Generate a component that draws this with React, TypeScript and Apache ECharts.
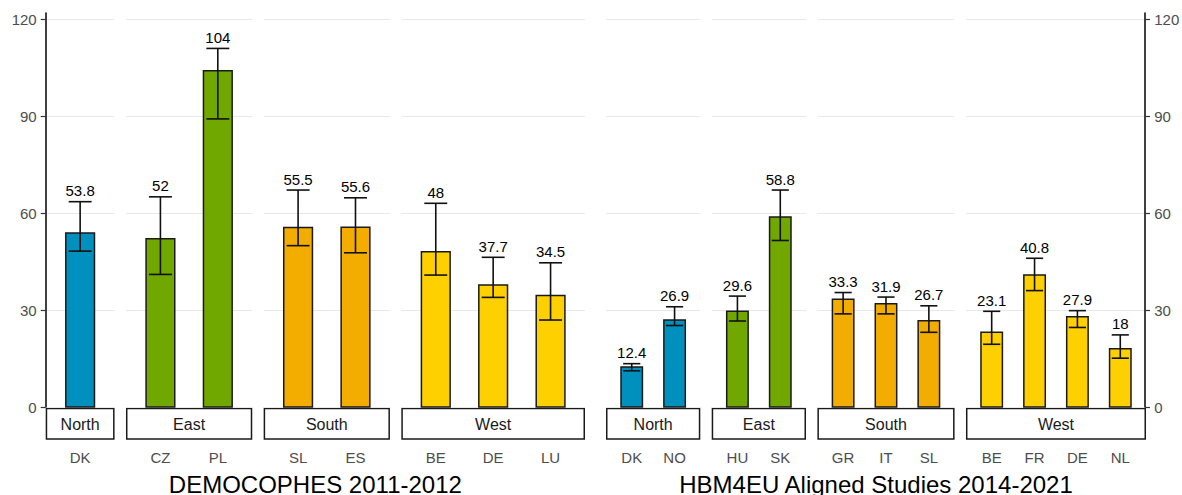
import React, { useEffect, useRef } from 'react';
import * as echarts from 'echarts';

const FONT = 'Arial, "Liberation Sans", Helvetica, sans-serif';

const regionOrder = ['North', 'East', 'South', 'West'];
const regionColors = ['#0090BE', '#70A800', '#F3AD00', '#FFD000'];

const panelTitles = ['DEMOCOPHES 2011-2012', 'HBM4EU Aligned Studies 2014-2021'];

const yTicks = [0, 30, 60, 90, 120];

// DEMOCOPHES 2011-2012
const demoCountries = ['DK', 'CZ', 'PL', 'SL', 'ES', 'BE', 'DE', 'LU'];
const demoRegions = ['North', 'East', 'East', 'South', 'South', 'West', 'West', 'West'];
const demoMeans = [53.8, 52, 104, 55.5, 55.6, 48, 37.7, 34.5];
const demoLower = [48.2, 41.0, 89.1, 49.9, 47.7, 40.8, 33.9, 26.9];
const demoUpper = [63.5, 65.0, 110.9, 67.1, 64.7, 63.0, 46.3, 44.6];

// HBM4EU Aligned Studies 2014-2021
const hbmCountries = ['DK', 'NO', 'HU', 'SK', 'GR', 'IT', 'SL', 'BE', 'FR', 'DE', 'NL'];
const hbmRegions = ['North', 'North', 'East', 'East', 'South', 'South', 'South', 'West', 'West', 'West', 'West'];
const hbmMeans = [12.4, 26.9, 29.6, 58.8, 33.3, 31.9, 26.7, 23.1, 40.8, 27.9, 18];
const hbmLower = [11.2, 25.2, 26.6, 51.5, 28.8, 28.8, 23.1, 19.4, 36.0, 24.6, 15.1];
const hbmUpper = [13.4, 31.0, 34.3, 67.1, 35.4, 34.0, 31.3, 29.6, 46.0, 29.8, 22.3];

const panels = [
  { countries: demoCountries, regions: demoRegions, means: demoMeans, lower: demoLower, upper: demoUpper },
  { countries: hbmCountries, regions: hbmRegions, means: hbmMeans, lower: hbmLower, upper: hbmUpper },
];

// layout
const PLOT_TOP = 19;
const PLOT_H = 388;
const GAP = 11.4;
const AXIS_EXTRA = 6;
const panelBounds = [
  [45.7, 585],
  [606, 1146],
];

function buildOption() {
  const grids: any[] = [];
  const xAxes: any[] = [];
  const yAxes: any[] = [];
  const series: any[] = [];
  const graphics: any[] = [];

  panels.forEach((p, pi) => {
    const [x0, x1] = panelBounds[pi];
    const facets = regionOrder
      .map((r, ri) => ({
        r,
        ri,
        idx: p.regions.map((rr, i) => (rr === r ? i : -1)).filter((i) => i >= 0),
      }))
      .filter((f) => f.idx.length > 0);
    const totalUnits = facets.reduce((s, f) => s + f.idx.length + 0.2, 0);
    const unit = (x1 - x0 - GAP * (facets.length - 1)) / totalUnits;
    let cursor = x0;
    facets.forEach((f) => {
      const n = f.idx.length;
      const w = (n + 0.2) * unit;
      const gi = grids.length;
      const color = regionColors[f.ri];
      grids.push({ left: cursor, top: PLOT_TOP, width: w, height: PLOT_H, containLabel: false });
      xAxes.push({
        gridIndex: gi,
        type: 'value',
        min: 0.4,
        max: n + 0.6,
        axisLine: { show: false },
        axisTick: { show: false },
        splitLine: { show: false },
        axisLabel: {
          show: true,
          customValues: f.idx.map((_, k) => k + 1),
          formatter: (v: number) => p.countries[f.idx[Math.round(v) - 1]] ?? '',
          margin: 43,
          color: '#4d4d4d',
          fontSize: 15,
          fontFamily: FONT,
        },
      });
      yAxes.push({
        gridIndex: gi,
        type: 'value',
        min: 0,
        max: 120,
        interval: 30,
        axisLine: { show: false },
        axisTick: { show: false },
        axisLabel: { show: false },
        splitLine: { show: true, lineStyle: { color: '#e8e8e8', width: 1.2 } },
      });
      series.push({
        type: 'custom',
        xAxisIndex: gi,
        yAxisIndex: gi,
        clip: false,
        encode: { x: 0, y: 1 },
        data: f.idx.map((i, k) => [k + 1, p.means[i], p.lower[i], p.upper[i]]),
        renderItem: (params: any, api: any) => {
          const x = api.value(0);
          const m = api.value(1);
          const lo = api.value(2);
          const hi = api.value(3);
          const tl = api.coord([x - 0.25, m]);
          const br = api.coord([x + 0.25, 0]);
          const top = api.coord([x, hi]);
          const bot = api.coord([x, lo]);
          const capL = api.coord([x - 0.2, hi])[0];
          const capR = api.coord([x + 0.2, hi])[0];
          const ls = { stroke: '#111', lineWidth: 1.6 };
          return {
            type: 'group',
            children: [
              {
                type: 'rect',
                shape: { x: tl[0], y: tl[1], width: br[0] - tl[0], height: br[1] - tl[1] },
                style: { fill: color, stroke: '#1a1a1a', lineWidth: 1.5 },
              },
              { type: 'line', shape: { x1: top[0], y1: top[1], x2: bot[0], y2: bot[1] }, style: ls },
              { type: 'line', shape: { x1: capL, y1: top[1], x2: capR, y2: top[1] }, style: ls },
              { type: 'line', shape: { x1: capL, y1: bot[1], x2: capR, y2: bot[1] }, style: ls },
              {
                type: 'text',
                style: {
                  text: String(m),
                  x: top[0],
                  y: top[1] - 11,
                  align: 'center',
                  verticalAlign: 'middle',
                  fontSize: 15,
                  fontFamily: FONT,
                  fill: '#000',
                },
              },
            ],
          };
        },
      });
      // strip box
      graphics.push({
        type: 'rect',
        shape: { x: cursor + 0.75, y: PLOT_TOP + PLOT_H + 1.5, width: w - 1.5, height: 30.5 },
        style: { fill: '#fff', stroke: '#1a1a1a', lineWidth: 1.5 },
      });
      graphics.push({
        type: 'text',
        x: cursor + w / 2,
        y: PLOT_TOP + PLOT_H + 17,
        style: {
          text: f.r,
          align: 'center',
          verticalAlign: 'middle',
          fontSize: 16,
          fontFamily: FONT,
          fill: '#1a1a1a',
        },
      });
      cursor += w + GAP;
    });
    graphics.push({
      type: 'text',
      x: (x0 + x1) / 2,
      y: 484.5,
      style: {
        text: panelTitles[pi],
        align: 'center',
        verticalAlign: 'middle',
        fontSize: 24,
        fontFamily: FONT,
        fill: '#000',
      },
    });
  });

  // outer axes
  const axisMax = (120 * (PLOT_H + AXIS_EXTRA)) / PLOT_H;
  const axisDefs = [
    { left: panelBounds[0][0], pos: 'left' },
    { left: panelBounds[1][1] - 1, pos: 'right' },
  ];
  axisDefs.forEach((d) => {
    const gi = grids.length;
    grids.push({ left: d.left, top: PLOT_TOP - AXIS_EXTRA, width: 1, height: PLOT_H + AXIS_EXTRA, containLabel: false });
    xAxes.push({ gridIndex: gi, type: 'value', show: false, min: 0, max: 1 });
    yAxes.push({
      gridIndex: gi,
      type: 'value',
      position: d.pos,
      min: 0,
      max: axisMax,
      axisLine: { show: true, lineStyle: { color: '#111', width: 1.6 } },
      axisTick: { show: true, customValues: yTicks, length: 5, lineStyle: { color: '#333', width: 1.2 } },
      axisLabel: {
        show: true,
        customValues: yTicks,
        margin: 9,
        color: '#4d4d4d',
        fontSize: 15,
        fontFamily: FONT,
      },
      splitLine: { show: false },
    });
  });

  return {
    animation: false,
    backgroundColor: '#fff',
    textStyle: { fontFamily: FONT },
    grid: grids,
    xAxis: xAxes,
    yAxis: yAxes,
    series,
    graphic: graphics,
  };
}

export default function App() {
  const ref = useRef<HTMLDivElement>(null);
  useEffect(() => {
    const chart = echarts.init(ref.current as HTMLDivElement, null, { renderer: 'svg' });
    chart.setOption(buildOption() as any);
    return () => chart.dispose();
  }, []);
  return (
    <div
      ref={ref}
      style={{ position: 'fixed', left: 0, top: 0, width: 1182, height: 495, background: '#fff' }}
    />
  );
}
